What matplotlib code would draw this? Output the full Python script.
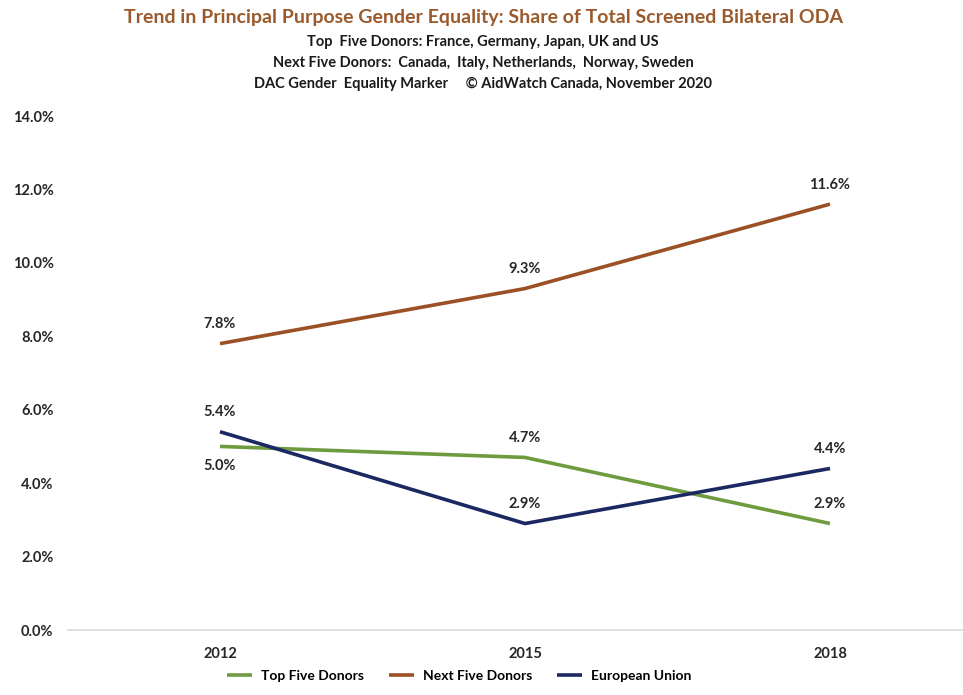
import matplotlib.pyplot as plt

# Share of total screened bilateral ODA with gender equality as principal purpose
years = ["2012", "2015", "2018"]
top_five = [5.0, 4.7, 2.9]
next_five = [7.8, 9.3, 11.6]
eu = [5.4, 2.9, 4.4]

series_names = ["Top Five Donors", "Next Five Donors", "European Union"]
colors = ["#6e9b3e", "#9b5025", "#1c2862"]
# label above (+1) or below (-1) each point
label_side = {
    "Top Five Donors": [-1, 1, 1],
    "Next Five Donors": [1, 1, 1],
    "European Union": [1, 1, 1],
}

plt.rcParams["font.family"] = ["Lato", "DejaVu Sans"]

fig = plt.figure(figsize=(9.63, 6.95), dpi=100)
# plot area runs off the right edge of the figure
ax = fig.add_axes([67.5 / 963, 65 / 695, 915 / 963, 514 / 695])

x = list(range(len(years)))
for name, vals, col in zip(series_names, [top_five, next_five, eu], colors):
    ax.plot(x, vals, color=col, lw=2.6, label=name, solid_capstyle="butt")
    for xi, v, side in zip(x, vals, label_side[name]):
        ax.annotate(f"{v:.1f}%", (xi, v), xytext=(0, 14 * side),
                    textcoords="offset points", ha="center", va="center",
                    fontsize=10.5, fontweight="bold", color="#262626")

ax.set_xlim(-0.5, 2.5)
ax.set_ylim(0, 14)
ax.set_yticks(range(0, 15, 2))
ax.set_yticklabels([f"{t:.1f}%" for t in range(0, 15, 2)])
ax.set_xticks(x)
ax.set_xticklabels(years)
for lab in ax.get_xticklabels() + ax.get_yticklabels():
    lab.set_fontweight("bold")
    lab.set_fontsize(10.5)
    lab.set_color("#262626")
ax.tick_params(length=0)
ax.tick_params(axis="y", pad=10)
ax.tick_params(axis="x", pad=12)

for s in ["top", "right", "left"]:
    ax.spines[s].set_visible(False)
ax.spines["bottom"].set_color("#d9d9d9")
ax.spines["bottom"].set_linewidth(1.2)

fig.text(483 / 963, 1 - 17 / 695,
         "Trend in Principal Purpose Gender Equality: Share of Total Screened Bilateral ODA",
         ha="center", va="center", fontsize=14, fontweight="bold", color="#9a5a2c")
subtitle = ["Top  Five Donors: France, Germany, Japan, UK and US",
            "Next Five Donors:  Canada,  Italy, Netherlands,  Norway, Sweden",
            "DAC Gender  Equality Marker     \u00a9 AidWatch Canada, November 2020"]
for i, line in enumerate(subtitle):
    fig.text(483 / 963, 1 - (42 + 21 * i) / 695, line, ha="center", va="center",
             fontsize=10.5, fontweight="bold", color="#1a1a1a")

fig.legend(*ax.get_legend_handles_labels(), loc="center", ncol=3,
           bbox_to_anchor=(459 / 963, 1 - 676 / 695), frameon=False,
           prop={"weight": "bold", "size": 10}, handlelength=1.8,
           columnspacing=1.8, handletextpad=0.65)

fig.savefig("out.png", dpi=100)
